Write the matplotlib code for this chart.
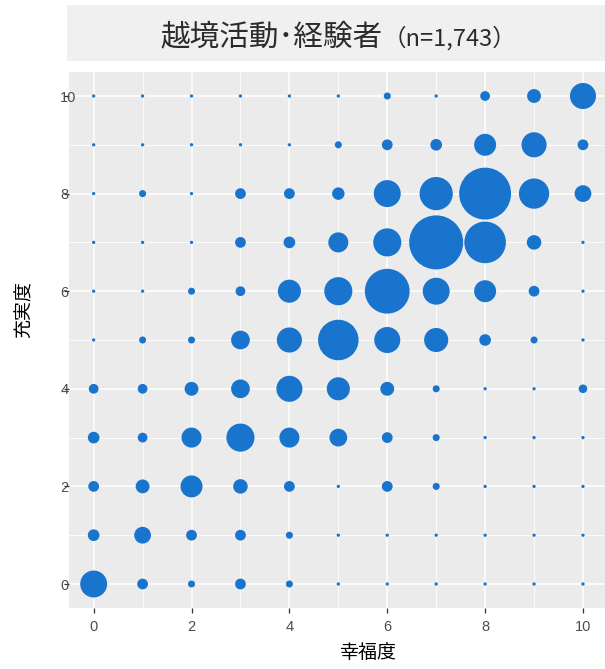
import numpy as np
import matplotlib
matplotlib.use("Agg")
import matplotlib.pyplot as plt
from matplotlib.patches import Rectangle

# ---- data ----
happiness = list(range(11))          # x: 幸福度 0..10
fulfillment = list(range(11))        # y: 充実度 0..10
# counts[y][x]  (row = 充実度, column = 幸福度)
counts = [
    [41, 5, 2, 5, 2, 1, 1, 1, 1, 1, 1],          # 充実度 0
    [6, 14, 5, 5, 2, 1, 1, 1, 1, 1, 1],          # 1
    [5, 9, 26, 10, 5, 1, 5, 2, 1, 1, 1],         # 2
    [6, 4, 21, 45, 21, 16, 5, 2, 1, 1, 1],       # 3
    [4, 4, 9, 18, 38, 29, 9, 2, 1, 1, 3],        # 4
    [1, 2, 2, 18, 35, 100, 38, 32, 6, 2, 1],     # 5
    [1, 1, 2, 4, 29, 45, 124, 41, 26, 5, 1],     # 6
    [1, 1, 1, 5, 6, 21, 45, 185, 106, 10, 1],    # 7
    [1, 2, 1, 5, 5, 7, 41, 65, 170, 53, 14],     # 8
    [1, 1, 1, 1, 1, 2, 5, 6, 26, 35, 5],         # 9
    [1, 1, 1, 1, 1, 1, 2, 1, 4, 9, 38],          # 10
]
title_main = "越境活動･経験者"
title_n = "（n=1,743）"
xlabel = "幸福度"
ylabel = "充実度"
ticks = [0, 2, 4, 6, 8, 10]

# ---- figure ----
W, H = 605, 669
fig = plt.figure(figsize=(W / 100, H / 100), dpi=100)
fig.patch.set_facecolor("white")

def fx(px):
    return px / W

def fy(py):
    return 1 - py / H

ax = fig.add_axes([fx(69.2), fy(608.4), (W - 69.2) / W, (608.4 - 71.6) / H])
ax.set_facecolor("#EBEBEB")
for s in ax.spines.values():
    s.set_visible(False)

X, Y = np.meshgrid(happiness, fulfillment)
C = np.array(counts, dtype=float)
cmin, cmax = C.min(), C.max()
dmin, dmax = 3.3, 54.0  # diameters in px
diam = dmin + (dmax - dmin) * np.sqrt((C - cmin) / (cmax - cmin))
sizes = (diam * 72 / 100) ** 2

ax.scatter(X.ravel(), Y.ravel(), s=sizes.ravel(), c="#1874CD",
           edgecolors="none", zorder=3)

ax.set_xlim(-0.5, 10.45)
ax.set_ylim(-0.5, 10.5)
ax.set_xticks(ticks)
ax.set_yticks(ticks)
ax.set_xticks([1, 3, 5, 7, 9], minor=True)
ax.set_yticks([1, 3, 5, 7, 9], minor=True)
ax.grid(which="major", color="white", linewidth=1.1, zorder=0)
ax.grid(which="minor", color="white", linewidth=0.6, zorder=0)
ax.set_axisbelow(True)

ax.tick_params(axis="both", which="minor", length=0)
ax.tick_params(axis="x", which="major", length=3.6, width=0.9, color="#333333",
               pad=5, labelsize=10.5, labelcolor="#4D4D4D")
ax.tick_params(axis="y", which="major", length=3.6, width=0.9, color="#333333",
               pad=2.9, labelsize=10.5, labelcolor="#4D4D4D")
for lab in ax.get_xticklabels() + ax.get_yticklabels():
    lab.set_fontfamily("Liberation Sans")
for lab in ax.get_yticklabels():
    lab.set_horizontalalignment("left")

# title box
fig.patches.append(Rectangle((fx(67), fy(61)), (W - 67) / W, (61 - 5) / H,
                             transform=fig.transFigure, facecolor="#F0F0F0",
                             edgecolor="none", zorder=0))
fig.text(fx(383), fy(45.5), title_main, ha="right", va="baseline",
         fontsize=21.3, color="#2b2b2b",
         family=["Noto Sans CJK JP", "DejaVu Sans"])
fig.text(fx(383), fy(45.5), title_n, ha="left", va="baseline",
         fontsize=17, color="#2b2b2b",
         family=["Noto Sans CJK JP", "DejaVu Sans"])

fig.text(fx(368), fy(652), xlabel, ha="center", va="center",
         fontsize=13.7, color="black", family=["Noto Sans CJK JP"])
fig.text(fx(24), fy(309), ylabel, ha="center", va="center", rotation=90,
         fontsize=13.7, color="black", family=["Noto Sans CJK JP"])

fig.savefig("out.png", dpi=100)
